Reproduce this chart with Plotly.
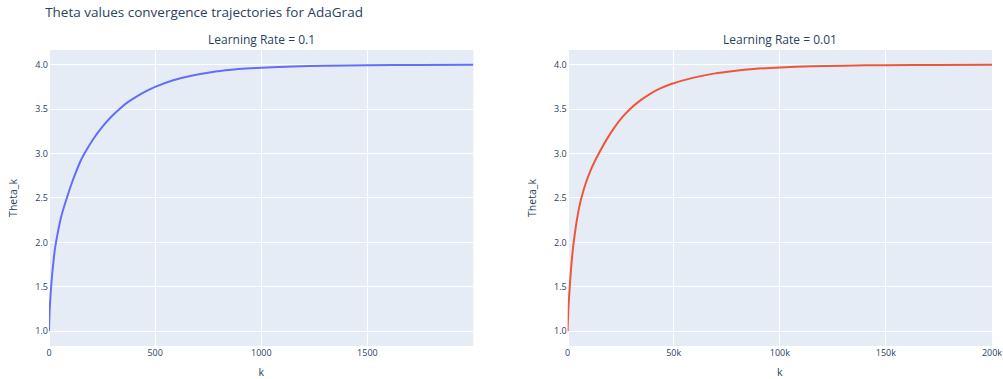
import plotly.graph_objects as go
from plotly.subplots import make_subplots

# AdaGrad trajectory, learning rate 0.1
k_lr_01 = [0, 1, 3, 6, 10, 16, 22, 27, 33, 46, 58, 71, 84, 105, 126, 146, 167, 208,
           249, 290, 331, 373, 416, 458, 500, 585, 670, 764, 858, 929, 1000, 1150,
           1300, 1500, 1750, 1999]
theta_lr_01 = [1.00, 1.10, 1.23, 1.36, 1.50, 1.669, 1.803, 1.910, 2.00, 2.164, 2.294,
               2.402, 2.50, 2.651, 2.785, 2.902, 3.00, 3.161, 3.295, 3.406, 3.50, 3.581,
               3.647, 3.703, 3.75, 3.8245, 3.876, 3.915, 3.942, 3.9565, 3.966, 3.979,
               3.988, 3.994, 3.997, 3.999]

# AdaGrad trajectory, learning rate 0.01
k_lr_001 = [0, 100, 300, 600, 1000, 1460, 1920, 2380, 2840, 3750, 4650, 5560, 6470,
            8520, 10570, 12620, 14670, 18340, 22000, 25670, 29340, 34120, 38890, 43670,
            48440, 59400, 68900, 78300, 87700, 100000, 115000, 130000, 150000, 175000,
            200000]
theta_lr_001 = [1.00, 1.10, 1.23, 1.36, 1.50, 1.657, 1.790, 1.9035, 2.00, 2.161, 2.296,
                2.408, 2.50, 2.666, 2.797, 2.9045, 3.00, 3.157, 3.2925, 3.407, 3.50,
                3.596, 3.673, 3.7336, 3.78, 3.855, 3.90, 3.93, 3.952, 3.969, 3.9825,
                3.990, 3.9955, 3.998, 3.9994]

subplot_titles = ["Learning Rate = 0.1", "Learning Rate = 0.01"]

fig = make_subplots(rows=1, cols=2, subplot_titles=subplot_titles,
                    horizontal_spacing=0.1)

fig.add_trace(go.Scatter(x=k_lr_01, y=theta_lr_01, mode="lines",
                         line=dict(color="#636EFA", width=2, shape="spline", smoothing=0.8),
                         showlegend=False), row=1, col=1)
fig.add_trace(go.Scatter(x=k_lr_001, y=theta_lr_001, mode="lines",
                         line=dict(color="#EF553B", width=2, shape="spline", smoothing=0.8),
                         showlegend=False), row=1, col=2)

for c in (1, 2):
    fig.update_xaxes(title_text="k", title_font=dict(size=10.5), tickfont=dict(size=9),
                     automargin=False, title_standoff=12, row=1, col=c)
    fig.update_yaxes(title_text="Theta_k", title_font=dict(size=10.5), tickfont=dict(size=9),
                     tickformat=".1f", automargin=False, row=1, col=c)

for ann in fig.layout.annotations:
    ann.font = dict(size=12)

fig.update_layout(
    template="plotly",
    width=1003, height=379,
    margin=dict(l=49, r=11, t=50, b=33),
    title=dict(text="Theta values convergence trajectories for AdaGrad",
               x=0.045, xanchor="left", y=0.968, yanchor="middle",
               font=dict(size=13.5)),
)

fig.write_html("out.html")
